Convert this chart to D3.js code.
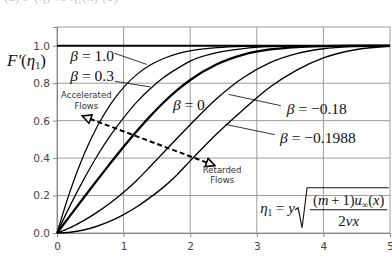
<!DOCTYPE html>
<html>
<head>
<meta charset="utf-8">
<script src="https://cdn.jsdelivr.net/npm/d3@7"></script>
<style>
  body { margin: 0; background: #fff; }
  svg { display: block; }
  .axis text { font-family: "DejaVu Sans", Verdana, sans-serif; font-size: 10.5px; fill: #444; }
  .axis path, .axis line { stroke: #888; }
  .math { font-family: "Liberation Serif", "Times New Roman", serif; fill: #111; }
  .note { font-family: "DejaVu Sans", Verdana, sans-serif; font-size: 8.5px; fill: #333; }
</style>
</head>
<body>
<svg id="chart" width="392" height="258"></svg>
<script>
// eta grid shared by every profile
var eta = [0, 0.2, 0.4, 0.6, 0.8, 1.0, 1.2, 1.4, 1.6, 1.8, 2.0, 2.4, 2.8, 3.2, 3.6, 4.0, 4.5, 5.0];

// F'(eta1) for each beta
var beta1    = [0, 0.227, 0.415, 0.566, 0.686, 0.778, 0.847, 0.897, 0.932, 0.957, 0.973, 0.990, 0.997, 0.999, 1.0, 1.0, 1.0, 1.0];
var beta03   = [0, 0.149, 0.285, 0.410, 0.520, 0.615, 0.700, 0.770, 0.830, 0.877, 0.918, 0.963, 0.985, 0.995, 0.998, 1.0, 1.0, 1.0];
var beta0    = [0, 0.094, 0.188, 0.281, 0.372, 0.461, 0.545, 0.624, 0.697, 0.761, 0.817, 0.901, 0.953, 0.980, 0.993, 0.998, 1.0, 1.0];
var betaM018 = [0, 0.029, 0.066, 0.110, 0.160, 0.217, 0.282, 0.355, 0.430, 0.505, 0.578, 0.718, 0.830, 0.910, 0.958, 0.984, 0.996, 1.0];
var betaSep  = [0, 0.004, 0.016, 0.036, 0.063, 0.098, 0.140, 0.190, 0.245, 0.310, 0.385, 0.530, 0.660, 0.780, 0.870, 0.935, 0.980, 0.997];

var xTicks = [0, 1, 2, 3, 4, 5];
var yTicks = [0, 0.2, 0.4, 0.6, 0.8, 1.0];

var svg = d3.select("#chart");
var margin = {top: 27, right: 2, bottom: 25, left: 57};
var width = 392 - margin.left - margin.right;
var height = 258 - margin.top - margin.bottom;

var x = d3.scaleLinear().domain([0, 5]).range([margin.left, margin.left + width]);
var y = d3.scaleLinear().domain([0, 1.1]).range([margin.top + height, margin.top]);

// faint caption, clipped by the top edge like in the source
svg.append("text")
    .attr("class", "math")
    .attr("x", 4)
    .attr("y", 0.5)
    .style("font-size", "14px")
    .style("fill", "#ccc")
    .text("(a)  Fʹ(η)   vs   η₁(x)  (b)");

// grid
svg.append("g").selectAll("line")
    .data(xTicks.slice(1, -1))
    .enter().append("line")
    .attr("x1", function(d) { return x(d); })
    .attr("x2", function(d) { return x(d); })
    .attr("y1", y(0))
    .attr("y2", y(1.1))
    .attr("stroke", "#9c9c9c");

svg.append("g").selectAll("line")
    .data(yTicks.slice(1, -1))
    .enter().append("line")
    .attr("x1", x(0))
    .attr("x2", x(5))
    .attr("y1", function(d) { return y(d); })
    .attr("y2", function(d) { return y(d); })
    .attr("stroke", "#9c9c9c");

svg.append("rect")
    .attr("x", x(0))
    .attr("y", y(1.1))
    .attr("width", x(5) - x(0))
    .attr("height", y(0) - y(1.1))
    .attr("fill", "none")
    .attr("stroke", "#9c9c9c");

// axes
svg.append("g")
    .attr("class", "axis")
    .attr("transform", "translate(0," + y(0) + ")")
    .call(d3.axisBottom(x).tickValues(xTicks).tickSize(4).tickPadding(6).tickFormat(d3.format("d")));

svg.append("g")
    .attr("class", "axis")
    .attr("transform", "translate(" + x(0) + ",0)")
    .call(d3.axisLeft(y).tickValues(yTicks).tickSize(4).tickPadding(3).tickFormat(d3.format(".1f")));

// free stream line
svg.append("line")
    .attr("x1", x(0))
    .attr("x2", x(5))
    .attr("y1", y(1))
    .attr("y2", y(1))
    .attr("stroke", "#000")
    .attr("stroke-width", 2.2);

// profiles
var line = d3.line()
    .x(function(d, i) { return x(eta[i]); })
    .y(function(d) { return y(d); })
    .curve(d3.curveMonotoneX);

var series = [
    {vals: beta1, w: 1.25},
    {vals: beta03, w: 1.25},
    {vals: beta0, w: 2.3},
    {vals: betaM018, w: 1.35},
    {vals: betaSep, w: 1.35}
];

svg.append("g").selectAll("path")
    .data(series)
    .enter().append("path")
    .attr("d", function(s) { return line(s.vals); })
    .attr("fill", "none")
    .attr("stroke", "#000")
    .attr("stroke-width", function(s) { return s.w; });

// leader lines (data coords)
var leaders = [
    [[0.86, 0.96], [1.35, 0.90]],
    [[0.87, 0.81], [1.40, 0.78]],
    [[3.36, 0.68], [2.58, 0.74]],
    [[3.27, 0.525], [2.53, 0.58]]
];
svg.append("g").selectAll("line")
    .data(leaders)
    .enter().append("line")
    .attr("x1", function(d) { return x(d[0][0]); })
    .attr("y1", function(d) { return y(d[0][1]); })
    .attr("x2", function(d) { return x(d[1][0]); })
    .attr("y2", function(d) { return y(d[1][1]); })
    .attr("stroke", "#000")
    .attr("stroke-width", 0.8);

// dashed arrow
var defs = svg.append("defs");
defs.append("marker")
    .attr("id", "tri")
    .attr("viewBox", "0 0 10 10")
    .attr("refX", 9)
    .attr("refY", 5)
    .attr("markerWidth", 5.5)
    .attr("markerHeight", 5.5)
    .attr("orient", "auto-start-reverse")
    .append("path")
    .attr("d", "M1,1 L9,5 L1,9 Z")
    .attr("fill", "#fff")
    .attr("stroke", "#000")
    .attr("stroke-width", 1.4);

svg.append("line")
    .attr("x1", x(0.38))
    .attr("y1", y(0.625))
    .attr("x2", x(2.37))
    .attr("y2", y(0.36))
    .attr("stroke", "#000")
    .attr("stroke-width", 2)
    .attr("stroke-dasharray", "5,3")
    .attr("marker-start", "url(#tri)")
    .attr("marker-end", "url(#tri)");

// flow notes
svg.append("text").attr("class", "note").attr("text-anchor", "middle")
    .attr("x", x(0.44)).attr("y", y(0.72)).text("Accelerated");
svg.append("text").attr("class", "note").attr("text-anchor", "middle")
    .attr("x", x(0.44)).attr("y", y(0.66)).text("Flows");
svg.append("text").attr("class", "note").attr("text-anchor", "middle")
    .attr("x", x(2.48)).attr("y", y(0.32)).text("Retarded");
svg.append("text").attr("class", "note").attr("text-anchor", "middle")
    .attr("x", x(2.48)).attr("y", y(0.265)).text("Flows");

// beta labels
function betaLabel(px, py, val, size) {
    var t = svg.append("text").attr("class", "math")
        .attr("x", px).attr("y", py).style("font-size", size + "px");
    t.append("tspan").style("font-style", "italic").text("β");
    t.append("tspan").text(" = " + val);
}
betaLabel(x(0.2), y(0.92), "1.0", 15.5);
betaLabel(x(0.2), y(0.81), "0.3", 15.5);
betaLabel(x(1.74), y(0.655), "0", 15.5);
betaLabel(x(3.45), y(0.635), "\u22120.18", 15.5);
betaLabel(x(3.35), y(0.48), "\u22120.1988", 15.5);

// y axis title F'(eta1)
var ft = svg.append("text").attr("class", "math")
    .attr("x", 7).attr("y", y(0.89)).style("font-size", "17px");
ft.append("tspan").style("font-style", "italic").text("F\u2032");
ft.append("tspan").text("(");
ft.append("tspan").style("font-style", "italic").text("η");
ft.append("tspan").attr("dy", 3).style("font-size", "10px").text("1");
ft.append("tspan").attr("dy", -3).text(")");

// formula
var fx = x(3.05), fb = y(0.108);
var lhs = svg.append("text").attr("class", "math")
    .attr("x", fx).attr("y", fb).style("font-size", "15px");
lhs.append("tspan").style("font-style", "italic").text("η");
lhs.append("tspan").attr("dy", 3).style("font-size", "9.5px").text("1");
lhs.append("tspan").attr("dy", -3).text(" = ");
lhs.append("tspan").style("font-style", "italic").text("y");

var rx = x(3.65);
svg.append("path")
    .attr("d", "M" + (rx - 5) + "," + (fb - 3) + " L" + (rx - 2) + "," + (fb - 5) +
               " L" + (rx + 2) + "," + (fb + 15) + " L" + (rx + 7) + "," + (fb - 25) +
               " L" + x(4.98) + "," + (fb - 25))
    .attr("fill", "none")
    .attr("stroke", "#111")
    .attr("stroke-width", 1.1);

svg.append("line")
    .attr("x1", rx + 10).attr("x2", x(4.96))
    .attr("y1", fb - 3).attr("y2", fb - 3)
    .attr("stroke", "#111").attr("stroke-width", 1);

var cx = (rx + 10 + x(4.96)) / 2;
var num = svg.append("text").attr("class", "math").attr("text-anchor", "middle")
    .attr("x", cx).attr("y", fb - 8).style("font-size", "14.5px");
num.append("tspan").text("(");
num.append("tspan").style("font-style", "italic").text("m");
num.append("tspan").text("\u2009+\u20091)");
num.append("tspan").style("font-style", "italic").text("u");
num.append("tspan").attr("dy", 3).style("font-size", "9px").text("∞");
num.append("tspan").attr("dy", -3).text("(");
num.append("tspan").style("font-style", "italic").text("x");
num.append("tspan").text(")");

var den = svg.append("text").attr("class", "math").attr("text-anchor", "middle")
    .attr("x", cx).attr("y", fb + 13).style("font-size", "15px");
den.append("tspan").text("2");
den.append("tspan").style("font-style", "italic").text("νx");
</script>
</body>
</html>
